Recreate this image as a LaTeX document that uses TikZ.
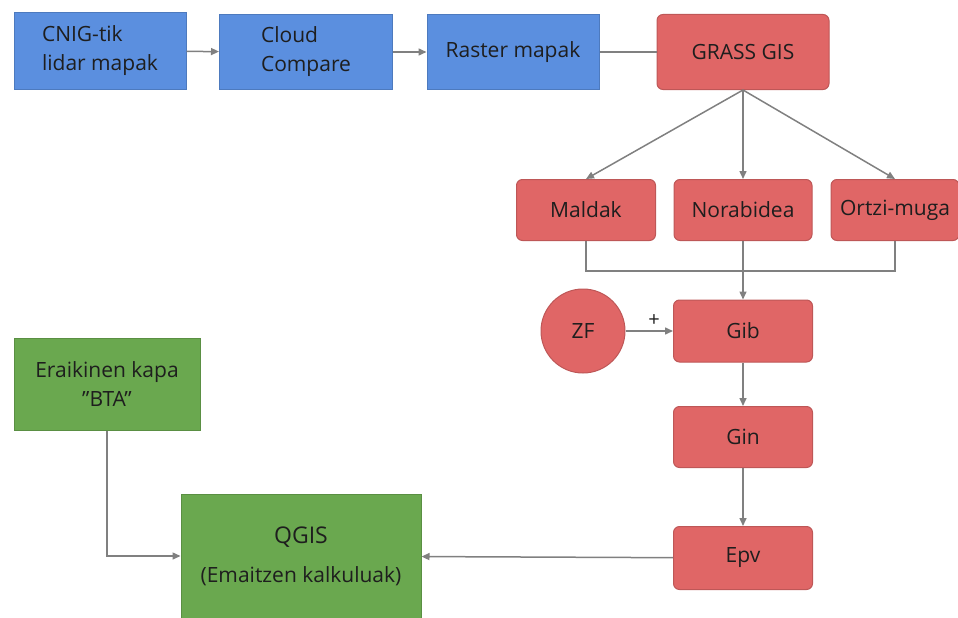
\documentclass[tikz,border=0pt]{standalone}
\usepackage{fontspec}
\setmainfont{Open Sans}
\usetikzlibrary{arrows.meta, positioning}
\definecolor{boxblue}{HTML}{5B8FDF}
\definecolor{boxred}{HTML}{E06666}
\definecolor{boxgreen}{HTML}{6AA84F}
\definecolor{linegray}{HTML}{808080}
\definecolor{inkdark}{HTML}{1E1E1E}

\tikzset{
  box/.style={line width=1pt, text=inkdark, inner sep=0pt,
              font=\fontsize{21}{29}\selectfont},
  bluebox/.style={box, fill=boxblue, draw=boxblue!85!black, align=left},
  redbox/.style={box, fill=boxred, draw=boxred!85!black, align=center,
                 rounded corners=6pt},
  greenbox/.style={box, fill=boxgreen, draw=boxgreen!85!black, align=center},
  link/.style={draw=linegray, line width=1.5pt},
  flow/.style={link, -{Triangle[length=8pt,width=7pt]}},
}

\begin{document}
\begin{tikzpicture}[x=1pt, y=-1pt]
  \useasboundingbox (0,0) rectangle (958,618);
  % top row: lidar data to raster
  \node[bluebox, minimum width=172, minimum height=76] (cnig)   at (100,51) {CNIG-tik\\lidar mapak};
  \node[bluebox, minimum width=173, minimum height=75] (cloud)  at (306,52) {Cloud\\Compare};
  \node[bluebox, minimum width=172, minimum height=75] (raster) at (513,52) {Raster mapak};
  \node[redbox,  minimum width=172, minimum height=75] (grass)  at (743,52) {GRASS GIS};
  % GRASS GIS products
  \node[redbox, minimum width=139, minimum height=61] (maldak)    at (586,210) {Maldak};
  \node[redbox, minimum width=138, minimum height=61] (norabidea) at (743,210) {Norabidea};
  \node[redbox, minimum width=128, minimum height=61] (ortzi)     at (895,210) {Ortzi-muga};
  \coordinate (join) at (743,271);
  % indices
  \node[redbox, circle, minimum size=84] (zf) at (583,331) {ZF};
  \node[redbox, minimum width=139, minimum height=62] (gib) at (743,331) {Gib};
  \node[redbox, minimum width=139, minimum height=61] (gin) at (743,437) {Gin};
  \node[redbox, minimum width=139, minimum height=63] (epv) at (743,558) {Epv};
  % QGIS side
  \node[greenbox, minimum width=186, minimum height=92] (eraikin) at (107,384)
    {Eraikinen kapa\\\symbol{34}BTA\symbol{34}};
  \node[greenbox, minimum width=240, minimum height=124] (qgis) at (301,556)
    {{\fontsize{23}{29}\selectfont QGIS}\\[10pt](Emaitzen kalkuluak)};

  % connectors
  \draw[flow] (cnig) -- (cloud);
  \draw[flow] (cloud) -- (raster);
  \draw[link] (raster) -- (grass);
  \draw[flow] (grass.south) -- (maldak.north);
  \draw[flow] (grass.south) -- (norabidea.north);
  \draw[flow] (grass.south) -- (ortzi.north);
  \draw[link] (maldak.south) |- (join) -| (ortzi.south);
  \draw[flow] (norabidea.south) -- (gib.north);
  \draw[flow] (zf) -- node[above, pos=0.6, font=\fontsize{20}{20}\selectfont, text=inkdark] {+} (gib);
  \draw[flow] (gib) -- (gin);
  \draw[flow] (gin) -- (epv);
  \draw[flow] (epv) -- (qgis);
  \draw[flow] (eraikin.south) |- (qgis.west);
\end{tikzpicture}
\end{document}
